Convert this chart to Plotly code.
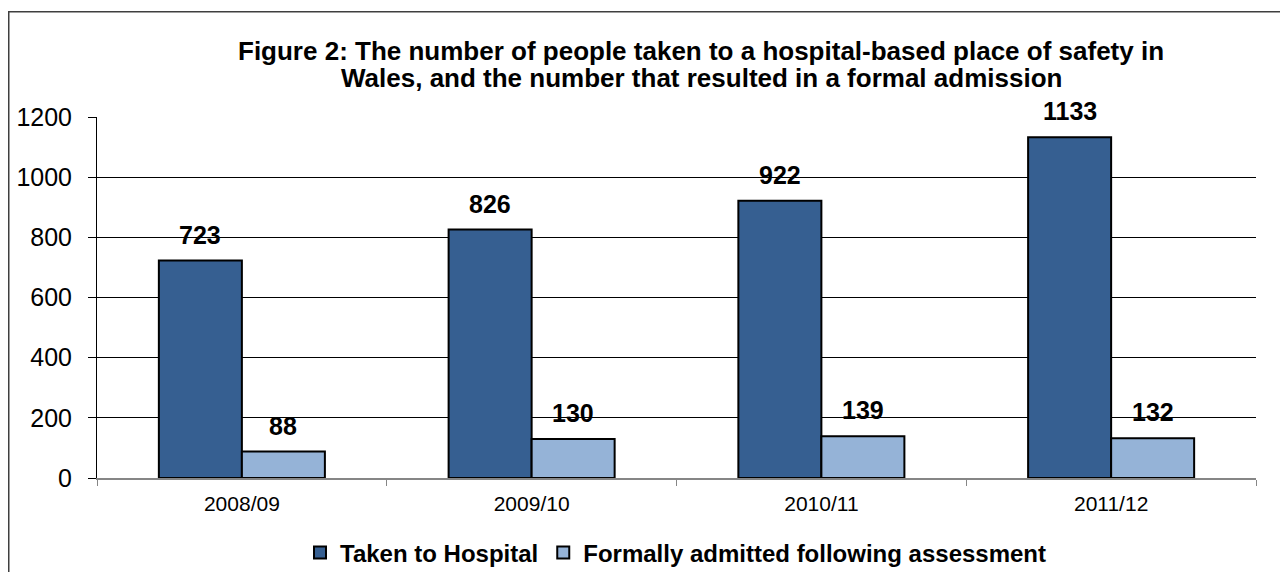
import plotly.graph_objects as go

categories = ["2008/09", "2009/10", "2010/11", "2011/12"]
taken_to_hospital = [723, 826, 922, 1133]
formally_admitted = [88, 130, 139, 132]
series_names = ["Taken to Hospital", "Formally admitted following assessment"]
y_ticks = [0, 200, 400, 600, 800, 1000, 1200]
title_lines = ["Figure 2: The number of people taken to a hospital-based place of safety in",
               "Wales, and the number that resulted in a formal admission"]

DARK = "#365F91"
LIGHT = "#95B3D7"
FONT = "Liberation Sans, Arial, sans-serif"

# page body has an 8px margin: figure pixel = screen pixel - 8
W, H = 1280, 564
ML, MR, MT, MB = 89, 32, 109, 94
PW = W - ML - MR
PH = H - MT - MB

def px_x(p):
    return (p - ML) / PW

def px_y(p):
    return (H - MB - p) / PH

fig = go.Figure()
fig.add_trace(go.Bar(x=categories, y=taken_to_hospital, name=series_names[0],
                     marker=dict(color=DARK, line=dict(color="black", width=2))))
fig.add_trace(go.Bar(x=categories, y=formally_admitted, name=series_names[1],
                     marker=dict(color=LIGHT, line=dict(color="black", width=2))))

annotations = []
for vals, shift in ((taken_to_hospital, -41.5), (formally_admitted, 41.5)):
    for c, v in zip(categories, vals):
        annotations.append(dict(x=c, y=v, xref="x", yref="y", text=f"<b>{v}</b>",
                                showarrow=False, xshift=shift, yshift=10,
                                yanchor="bottom", xanchor="center",
                                font=dict(family=FONT, size=25, color="black")))

for line, ypx in zip(title_lines, (43, 70)):
    annotations.append(dict(x=px_x(693), y=px_y(ypx), xref="paper", yref="paper",
                            text=f"<b>{line}</b>", showarrow=False,
                            xanchor="center", yanchor="middle",
                            font=dict(family=FONT, size=26, color="black")))

fig.update_layout(
    width=W, height=H,
    margin=dict(l=ML, r=MR, t=MT, b=MB, autoexpand=False),
    paper_bgcolor="white", plot_bgcolor="white",
    barmode="group", bargap=0.427, bargroupgap=0,
    font=dict(family=FONT, color="black"),
    showlegend=True,
    legend=dict(orientation="h", x=px_x(668), xanchor="center", y=px_y(545), yanchor="middle",
                font=dict(family=FONT, size=24, color="black", weight="bold"),
                bgcolor="rgba(0,0,0,0)", itemclick=False),
    annotations=annotations,
    shapes=[dict(type="rect", xref="paper", yref="paper",
                 x0=px_x(0.75), x1=px_x(1273), y0=px_y(580), y1=px_y(3.7),
                 line=dict(color="#3f3f3f", width=1.5), layer="below")],
)

fig.update_xaxes(showline=True, linecolor="#868686", linewidth=1.5,
                 ticks="outside", tickson="boundaries", ticklen=6, tickcolor="#868686",
                 tickfont=dict(family=FONT, size=21, color="black"),
                 ticklabelstandoff=6, showgrid=False)
fig.update_yaxes(range=[0, 1200], tickvals=y_ticks, showline=True, linecolor="black",
                 linewidth=1, ticks="outside", ticklen=8, tickcolor="black",
                 showgrid=True, gridcolor="black", gridwidth=1, zeroline=False,
                 tickfont=dict(family=FONT, size=25, color="black"), ticklabelstandoff=11)

fig.write_html("out.html")
